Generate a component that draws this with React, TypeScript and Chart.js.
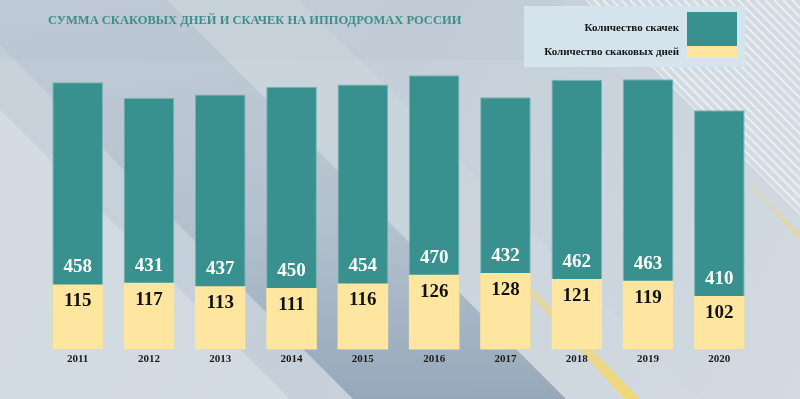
import React, { useEffect, useRef } from "react";
import { Chart, registerables } from "chart.js";

Chart.register(...registerables);

const years = ["2011", "2012", "2013", "2014", "2015", "2016", "2017", "2018", "2019", "2020"];
const races = [458, 431, 437, 450, 454, 470, 432, 462, 463, 410];
const raceDays = [115, 117, 113, 111, 116, 126, 128, 121, 119, 102];
const seriesNames = ["Количество скачек", "Количество скаковых дней"];
const chartTitle = "СУММА СКАКОВЫХ ДНЕЙ И СКАЧЕК НА ИППОДРОМАХ РОССИИ";

const TEAL = "#38918f";
const YELLOW = "#fee6a0";
const SERIF = "'Liberation Serif', 'DejaVu Serif', serif";

function poly(ctx: CanvasRenderingContext2D, pts: number[][], fill: string | CanvasGradient) {
  ctx.beginPath();
  ctx.moveTo(pts[0][0], pts[0][1]);
  for (let i = 1; i < pts.length; i++) ctx.lineTo(pts[i][0], pts[i][1]);
  ctx.closePath();
  ctx.fillStyle = fill;
  ctx.fill();
}

const backgroundPlugin = {
  id: "bgDecor",
  beforeDraw(chart: any) {
    const ctx: CanvasRenderingContext2D = chart.ctx;
    const w = chart.width;
    const h = chart.height;
    ctx.save();
    const g = ctx.createLinearGradient(0, 0, w, h);
    g.addColorStop(0, "#c8d2db");
    g.addColorStop(0.45, "#c4cfd9");
    g.addColorStop(1, "#d3dae1");
    ctx.fillStyle = g;
    ctx.fillRect(0, 0, w, h);

    // light lower-left area
    poly(ctx, [[0, 110], [290, h], [0, h]], "rgba(222,228,234,0.55)");
    // slightly darker top band
    poly(ctx, [[0, 0], [560, 0], [620, 60], [0, 60]], "rgba(170,185,200,0.14)");
    // dark diagonal band
    const dg = ctx.createLinearGradient(0, 0, 0, h);
    dg.addColorStop(0, "rgba(150,168,186,0.12)");
    dg.addColorStop(0.55, "rgba(145,164,183,0.32)");
    dg.addColorStop(1, "rgba(140,160,180,0.85)");
    poly(ctx, [[-46, 0], [167, 0], [167 + h, h], [-46 + h, h]], dg);
    // lighter band to the right of the dark band
    poly(ctx, [[167, 0], [300, 0], [300 + h, h], [167 + h, h]], "rgba(215,222,229,0.25)");

    // stripes top-right
    ctx.save();
    ctx.beginPath();
    ctx.moveTo(585, 0);
    ctx.lineTo(w, 0);
    ctx.lineTo(w, w - 585);
    ctx.closePath();
    ctx.clip();
    ctx.fillStyle = "rgba(215,223,230,0.5)";
    ctx.fillRect(0, 0, w, h);
    ctx.strokeStyle = "rgba(255,255,255,0.55)";
    ctx.lineWidth = 2.2;
    for (let c = 585; c < w + 10; c += 9) {
      ctx.beginPath();
      ctx.moveTo(c, 0);
      ctx.lineTo(c + h, h);
      ctx.stroke();
    }
    ctx.restore();

    // gold streak lower
    const gg = ctx.createLinearGradient(470, 200, 640, h);
    gg.addColorStop(0, "rgba(240,215,120,0)");
    gg.addColorStop(0.45, "rgba(240,215,120,0.55)");
    gg.addColorStop(1, "rgba(243,215,110,0.95)");
    poly(ctx, [[468, 226], [472, 226], [640, h], [624, h]], gg);
    // gold streak upper right
    const gg2 = ctx.createLinearGradient(735, 170, w, 240);
    gg2.addColorStop(0, "rgba(235,215,130,0)");
    gg2.addColorStop(1, "rgba(235,215,130,0.9)");
    poly(ctx, [[735, 170], [738, 170], [w, 235], [w, 240]], gg2);
    ctx.restore();
  },
};

const labelsPlugin = {
  id: "decorLabels",
  afterDatasetsDraw(chart: any) {
    const ctx: CanvasRenderingContext2D = chart.ctx;
    const xs = chart.scales.x;
    const yd = chart.scales.yDays;
    ctx.save();
    ctx.font = `bold 19px ${SERIF}`;
    ctx.textAlign = "center";
    ctx.textBaseline = "middle";
    raceDays.forEach((v, i) => {
      const x = xs.getPixelForValue(i);
      const yTop = yd.getPixelForValue(v);
      ctx.fillStyle = "#ffffff";
      ctx.fillText(String(races[i]), x, yTop - 17);
      ctx.fillStyle = "#111111";
      ctx.fillText(String(v), x, yTop + 17);
    });
    ctx.restore();
  },
  afterDraw(chart: any) {
    const ctx: CanvasRenderingContext2D = chart.ctx;
    ctx.save();
    // title
    ctx.font = `bold 12.5px ${SERIF}`;
    ctx.fillStyle = "#3e8f8b";
    ctx.textAlign = "left";
    ctx.textBaseline = "middle";
    ctx.fillText(chartTitle, 48, 21);

    // legend
    ctx.fillStyle = "#d4e3ec";
    ctx.fillRect(524, 6, 221, 61);
    ctx.fillStyle = TEAL;
    ctx.fillRect(687, 12, 50, 34);
    ctx.fillStyle = YELLOW;
    ctx.fillRect(687, 46, 50, 12);
    ctx.font = `bold 11px ${SERIF}`;
    ctx.fillStyle = "#151515";
    ctx.textAlign = "right";
    ctx.fillText(seriesNames[0], 679, 28);
    ctx.fillText(seriesNames[1], 679, 52);
    ctx.restore();
  },
};

export default function App() {
  const ref = useRef<HTMLCanvasElement>(null);
  useEffect(() => {
    if (!ref.current) return;
    const chart = new Chart(ref.current, {
      type: "bar",
      data: {
        labels: years,
        datasets: [
          {
            label: seriesNames[1],
            data: raceDays,
            backgroundColor: YELLOW,
            borderWidth: 0,
            yAxisID: "yDays",
            grouped: false,
            categoryPercentage: 1,
            barPercentage: 0.71,
          },
          {
            label: seriesNames[0],
            data: races,
            backgroundColor: TEAL,
            borderColor: "rgba(110,175,172,0.9)",
            borderWidth: 1,
            yAxisID: "yRaces",
            grouped: false,
            categoryPercentage: 1,
            barPercentage: 0.71,
          },
        ],
      },
      options: {
        responsive: false,
        animation: false,
        layout: { padding: { top: 60, left: 42, right: 45, bottom: 30.2 } },
        plugins: { legend: { display: false }, tooltip: { enabled: false }, title: { display: false } },
        scales: {
          x: {
            grid: { display: false, drawTicks: false },
            border: { display: false },
            ticks: { color: "#1a1a1a", padding: 3, font: { family: SERIF, weight: "bold", size: 11 } },
          },
          yRaces: { display: false, min: 0, max: 496, position: "left" },
          yDays: { display: false, min: 41.4, max: 368.3, position: "right" },
        },
      },
      plugins: [backgroundPlugin, labelsPlugin],
    } as any);
    return () => chart.destroy();
  }, []);
  return (
    <div style={{ position: "fixed", left: 0, top: 0, width: 800, height: 399 }}>
      <canvas ref={ref} width={800} height={399} style={{ display: "block" }} />
    </div>
  );
}
